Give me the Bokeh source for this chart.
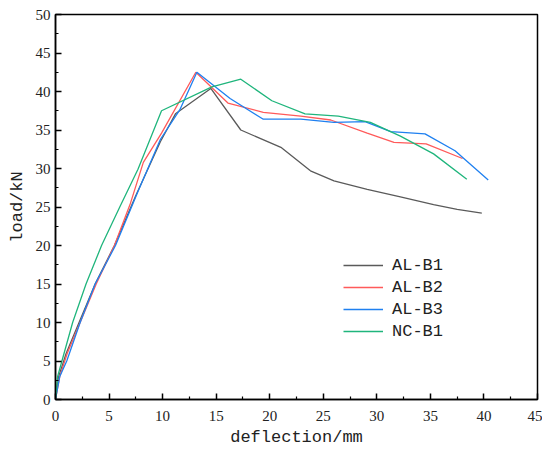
from bokeh.plotting import figure
from bokeh.models import Range1d, FixedTicker, Legend, LegendItem
from bokeh.embed import file_html
from bokeh.resources import INLINE

# AL-B1
b1_x = [0, 0.3, 1.0, 2.2, 3.7, 5.5, 7.5, 9.8, 11.2, 14.5, 17.3, 21.1, 23.8, 26.0, 29.1, 32.2, 35.3, 37.5, 39.8]
b1_y = [0, 3, 6, 10, 15, 20, 26.5, 33.5, 37.1, 40.4, 35.0, 32.7, 29.7, 28.4, 27.3, 26.3, 25.3, 24.7, 24.2]
# AL-B2
b2_x = [0, 0.4, 1.1, 2.3, 3.8, 5.5, 7.0, 8.2, 9.9, 13.1, 16.1, 19.4, 22.9, 25.7, 29.1, 31.6, 34.6, 38.0]
b2_y = [0, 3, 6, 10, 15, 20, 25.5, 30.8, 34.6, 42.5, 38.5, 37.3, 36.8, 36.3, 34.6, 33.4, 33.2, 31.3]
# AL-B3
b3_x = [0, 0.4, 1.05, 2.3, 3.7, 5.6, 7.7, 9.8, 11.6, 13.2, 16.3, 19.4, 22.9, 26.0, 28.9, 31.3, 34.5, 37.3, 40.4]
b3_y = [0, 3, 5, 10, 15, 20, 27, 33.8, 37.6, 42.5, 39.1, 36.4, 36.4, 36.0, 36.1, 34.8, 34.5, 32.3, 28.5]
# NC-B1
nc_x = [0, 0.2, 0.6, 1.6, 2.85, 4.3, 6.0, 7.7, 9.9, 14.6, 17.3, 20.2, 23.3, 26.4, 29.4, 32.2, 35.3, 38.4]
nc_y = [0, 3, 5, 10, 15, 20, 25, 29.9, 37.5, 40.6, 41.6, 38.8, 37.1, 36.8, 36.0, 34.2, 31.9, 28.6]

series_names = ["AL-B1", "AL-B2", "AL-B3", "NC-B1"]
colors = ["#5a5a5a", "#ff5a5a", "#1f80f0", "#1fb57c"]

x_ticks = [0, 5, 10, 15, 20, 25, 30, 35, 40, 45]
y_ticks = [0, 5, 10, 15, 20, 25, 30, 35, 40, 45, 50]

p = figure(width=542, height=449, output_backend="svg", toolbar_location=None,
           x_range=Range1d(0, 45), y_range=Range1d(0, 50),
           min_border_left=55, min_border_right=5, min_border_top=14, min_border_bottom=47)
p.xgrid.visible = False
p.ygrid.visible = False
p.outline_line_color = "black"
p.outline_line_width = 1.5
p.background_fill_color = "white"

for ax, ticks in ((p.xaxis[0], x_ticks), (p.yaxis[0], y_ticks)):
    ax.ticker = FixedTicker(ticks=ticks, minor_ticks=[t + 2.5 for t in ticks[:-1]])
    ax.major_tick_in = 6
    ax.major_tick_out = 0
    ax.minor_tick_in = 3
    ax.minor_tick_out = 0
    ax.axis_line_width = 1.5
    ax.major_tick_line_width = 1.5
    ax.minor_tick_line_width = 1.2
    ax.major_label_text_font = "Liberation Serif"
    ax.major_label_text_font_size = "15px"
    ax.major_label_text_color = "#222222"
    ax.axis_label_text_font = "Liberation Mono"
    ax.axis_label_text_font_size = "17px"
    ax.axis_label_text_font_style = "normal"
    ax.axis_label_text_color = "#222222"

p.xaxis.axis_label = "deflection/mm"
p.yaxis.axis_label = "load/kN"
p.xaxis.major_label_standoff = 11
p.yaxis.major_label_standoff = 5
p.xaxis.axis_label_standoff = 4
p.yaxis.axis_label_standoff = 6

data = [(b1_x, b1_y), (b2_x, b2_y), (b3_x, b3_y), (nc_x, nc_y)]
items = []
for (xs, ys), name, c in zip(data, series_names, colors):
    r = p.line(xs, ys, line_color=c, line_width=1.3)
    items.append(LegendItem(label=name, renderers=[r]))

legend = Legend(items=items, location=(288, 58))
legend.border_line_color = None
legend.background_fill_alpha = 0
legend.padding = 0
legend.margin = 0
legend.spacing = 2
legend.glyph_width = 40
legend.glyph_height = 20
legend.label_height = 20
legend.label_standoff = 9
legend.label_text_font = "Liberation Mono"
legend.label_text_font_size = "17px"
legend.label_text_color = "#222222"
p.add_layout(legend)

open("out.html", "w").write(file_html(p, INLINE))
